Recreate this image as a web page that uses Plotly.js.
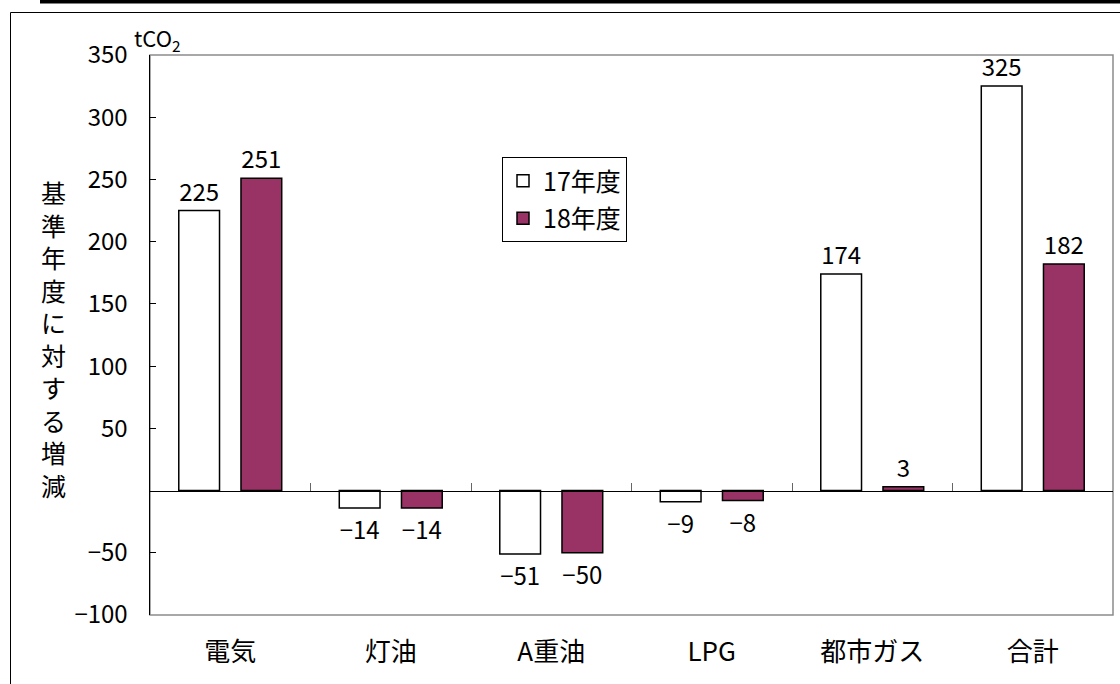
<!DOCTYPE html>
<html>
<head>
<meta charset="utf-8">
<script src="https://cdn.plot.ly/plotly-3.0.1.min.js"></script>
<style>html,body{margin:0;padding:0;background:#fff;}#chart{width:1120px;height:684px;}</style>
</head>
<body>
<div id="chart"></div>
<script>
// ---- data ----
const categories = ["電気", "灯油", "A重油", "LPG", "都市ガス", "合計"];
const seriesNames = ["17年度", "18年度"];
const values17 = [225, -14, -51, -9, 174, 325];
const values18 = [251, -14, -50, -8, 3, 182];
const yTickVals = [-100, -50, 50, 100, 150, 200, 250, 300, 350];
const yTickText = ["−100", "−50", "50", "100", "150", "200", "250", "300", "350"];
const yRange = [-100, 350];
const yTitleChars = ["基", "準", "年", "度", "に", "対", "す", "る", "増", "減"];
const unitLabel = "tCO<sub>2</sub>";

// ---- layout geometry ----
const W = 1120, H = 684;
const M = {l: 150, r: 7, t: 55, b: 69};
const PW = W - M.l - M.r, PH = H - M.t - M.b;
const px = x => (x - M.l) / PW;
const py = y => (H - M.b - y) / PH;

const FONT = '"Noto Sans CJK JP", "Noto Sans", sans-serif';
const fmt = v => String(v).replace('-', '−');

const traces = [
  {
    type: 'bar', name: seriesNames[0], x: categories, y: values17,
    text: values17.map(fmt), textposition: 'outside', cliponaxis: false,
    textfont: {size: 24, color: '#000', family: FONT},
    marker: {color: '#ffffff', line: {color: '#000', width: 1.5}},
    legendgroup: 'a', hoverinfo: 'x+y'
  },
  {
    type: 'bar', name: seriesNames[1], x: categories, y: values18,
    text: values18.map(fmt), textposition: 'outside', cliponaxis: false,
    textfont: {size: 24, color: '#000', family: FONT},
    marker: {color: '#993366', line: {color: '#000', width: 1.5}},
    legendgroup: 'b', hoverinfo: 'x+y'
  }
];

const layout = {
  width: W, height: H,
  margin: M,
  paper_bgcolor: '#fff', plot_bgcolor: '#fff',
  font: {family: FONT, color: '#000', size: 24},
  barmode: 'group', bargap: 0.225, bargroupgap: 0.345,
  showlegend: true,
  legend: {
    x: px(502), y: py(157), xanchor: 'left', yanchor: 'top',
    bgcolor: '#fff', bordercolor: '#000', borderwidth: 1,
    font: {size: 25, family: FONT, color: '#000'},
    traceorder: 'grouped', tracegroupgap: 2
  },
  xaxis: {
    type: 'category', range: [-0.5, categories.length - 0.5],
    anchor: 'free', position: -yRange[0] / (yRange[1] - yRange[0]),
    showline: true, linecolor: '#000', linewidth: 1,
    ticks: 'inside', tickson: 'boundaries', ticklen: 8, tickcolor: '#666', tickwidth: 1,
    tickfont: {size: 26, family: FONT, color: '#000'},
    ticklabelstandoff: 138,
    showgrid: false, zeroline: false, fixedrange: true
  },
  yaxis: {
    range: yRange, tickvals: yTickVals, ticktext: yTickText,
    ticks: 'inside', ticklen: 6, tickcolor: '#000', tickwidth: 1,
    showline: true, linecolor: '#000', linewidth: 1.5,
    tickfont: {size: 24, family: FONT, color: '#000'},
    ticklabelstandoff: 16,
    showgrid: false, zeroline: false, fixedrange: true
  },
  shapes: [
    // plot-area frame
    {type: 'rect', xref: 'x domain', yref: 'y domain', x0: 0, x1: 1, y0: 0, y1: 1,
     line: {color: '#8c8c8c', width: 1.5}, fillcolor: 'rgba(0,0,0,0)', layer: 'below'},
    // thick top rule of the page
    {type: 'rect', xref: 'paper', yref: 'paper', x0: px(40), x1: px(1120), y0: py(3.5), y1: py(0),
     line: {width: 0}, fillcolor: '#000', layer: 'above'},
    // outer chart box (left + top edges)
    {type: 'line', xref: 'paper', yref: 'paper', x0: px(10.5), x1: px(10.5), y0: py(12.5), y1: py(684),
     line: {color: '#000', width: 1}},
    {type: 'line', xref: 'paper', yref: 'paper', x0: px(10.5), x1: px(1120), y0: py(12.5), y1: py(12.5),
     line: {color: '#000', width: 1}}
  ],
  annotations: [
    {xref: 'paper', yref: 'paper', x: px(53), y: py(338), xanchor: 'center', yanchor: 'middle',
     text: yTitleChars.join('<br>'), showarrow: false, font: {size: 25, family: FONT, color: '#000'}},
    {xref: 'paper', yref: 'paper', x: px(157), y: py(38), xanchor: 'center', yanchor: 'middle',
     text: unitLabel, showarrow: false, font: {size: 22, family: FONT, color: '#000'}}
  ]
};

Plotly.newPlot('chart', traces, layout, {displayModeBar: false, staticPlot: true});
</script>
</body>
</html>
